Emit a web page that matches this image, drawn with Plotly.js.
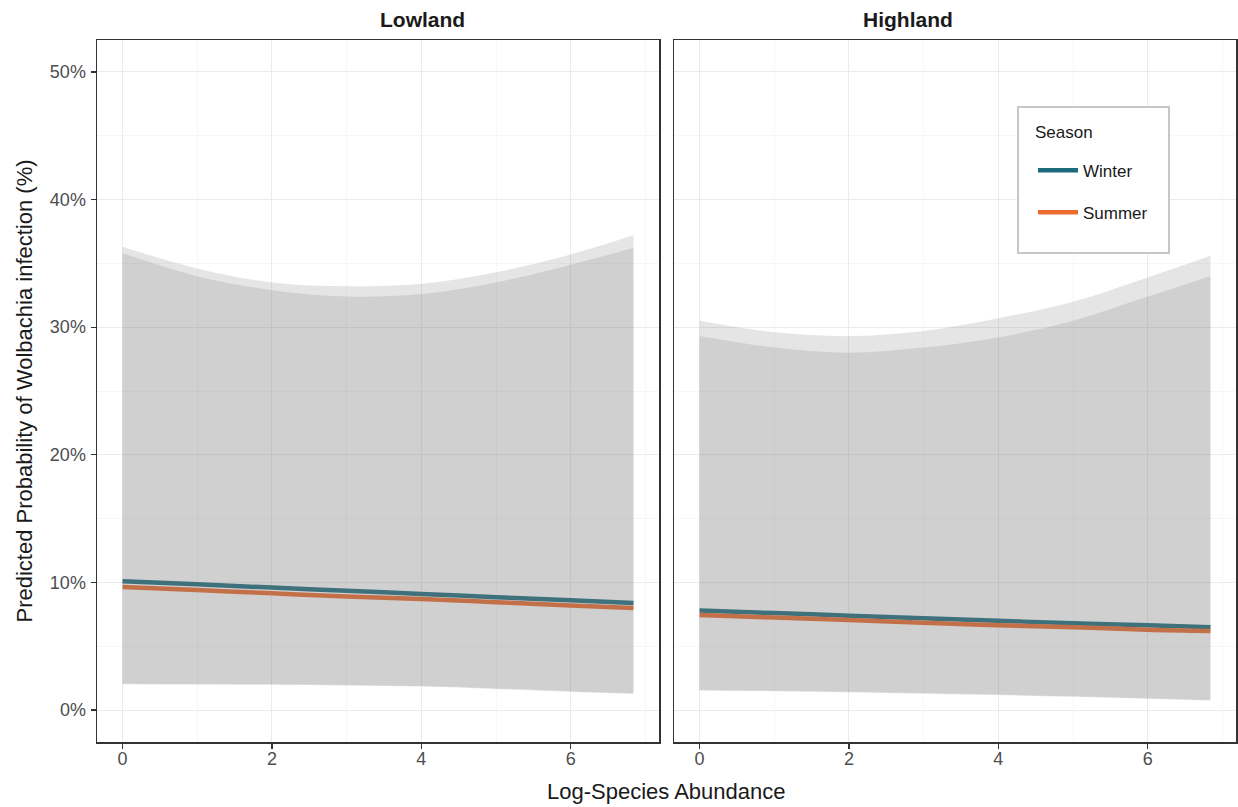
<!DOCTYPE html>
<html><head><meta charset="utf-8">
<script src="https://cdn.plot.ly/plotly-3.0.1.min.js"></script>
<style>html,body{margin:0;padding:0;background:#fff}</style>
</head><body><div id="chart" style="width:1238px;height:807px"></div>
<script>
const panels = ['Lowland', 'Highland'];
const seasons = ['Winter', 'Summer'];
const xVals = [0, 1, 2, 3, 4, 5, 6, 6.84];
const xTicks = [0, 2, 4, 6];
const yTicks = [0, 10, 20, 30, 40, 50];
const yTickLabels = ['0%', '10%', '20%', '30%', '40%', '50%'];

const lowWinterFit   = [10.1, 9.85, 9.6, 9.35, 9.1, 8.85, 8.6, 8.4];
const lowSummerFit   = [9.65, 9.4, 9.15, 8.9, 8.7, 8.45, 8.2, 8.0];
const lowWinterUpper = [36.3, 34.6, 33.5, 33.2, 33.4, 34.3, 35.7, 37.2];
const lowSummerUpper = [35.8, 34.0, 32.9, 32.4, 32.6, 33.5, 34.9, 36.2];
const lowWinterLower = [2.07, 2.05, 2.02, 1.96, 1.88, 1.70, 1.48, 1.31];
const lowSummerLower = [2.03, 2.01, 1.98, 1.92, 1.84, 1.65, 1.44, 1.27];

const highWinterFit   = [7.8, 7.6, 7.4, 7.2, 7.0, 6.8, 6.65, 6.5];
const highSummerFit   = [7.45, 7.25, 7.05, 6.85, 6.65, 6.5, 6.3, 6.2];
const highWinterUpper = [30.5, 29.6, 29.3, 29.7, 30.7, 32.0, 33.9, 35.6];
const highSummerUpper = [29.3, 28.4, 28.0, 28.4, 29.2, 30.5, 32.4, 34.0];
const highWinterLower = [1.57, 1.52, 1.44, 1.33, 1.22, 1.08, 0.92, 0.79];
const highSummerLower = [1.53, 1.48, 1.40, 1.29, 1.18, 1.04, 0.88, 0.75];

const seasonColors = {Winter: '#1c6b7c', Summer: '#ec6a2c'};
const ribbonFill = 'rgba(127,127,127,0.2)';
const FONT = 'Liberation Sans, Arial, sans-serif';

const panelData = [
  {xa: 'x',  ya: 'y',  fit: {Winter: lowWinterFit, Summer: lowSummerFit},
   upper: {Winter: lowWinterUpper, Summer: lowSummerUpper},
   lower: {Winter: lowWinterLower, Summer: lowSummerLower}},
  {xa: 'x2', ya: 'y2', fit: {Winter: highWinterFit, Summer: highSummerFit},
   upper: {Winter: highWinterUpper, Summer: highSummerUpper},
   lower: {Winter: highWinterLower, Summer: highSummerLower}}
];

const traces = [];
panelData.forEach((p, pi) => {
  seasons.forEach(s => {
    traces.push({
      type: 'scatter', mode: 'lines', x: xVals, y: p.fit[s],
      xaxis: p.xa, yaxis: p.ya, name: s, legendgroup: s,
      showlegend: pi === 1,
      line: {color: seasonColors[s], width: 4.5, shape: 'spline'},
      hoverinfo: 'skip'
    });
  });
  seasons.forEach(s => {
    traces.push({
      type: 'scatter', mode: 'lines', x: xVals, y: p.lower[s],
      xaxis: p.xa, yaxis: p.ya, showlegend: false,
      line: {width: 0, shape: 'spline'}, hoverinfo: 'skip'
    });
    traces.push({
      type: 'scatter', mode: 'lines', x: xVals, y: p.upper[s],
      xaxis: p.xa, yaxis: p.ya, showlegend: false, fill: 'tonexty',
      fillcolor: ribbonFill, line: {width: 0, shape: 'spline'}, hoverinfo: 'skip'
    });
  });
});

const tickFont = {family: FONT, size: 18, color: '#4d4d4d'};
const xCommon = {
  range: [-0.342, 7.182], tickvals: xTicks, ticks: 'outside', ticklen: 5,
  tickcolor: '#333333', tickwidth: 1.2, tickfont: tickFont, ticklabelstandoff: -5,
  showgrid: true, gridcolor: '#ebebeb', gridwidth: 1,
  minor: {dtick: 1, tick0: 1, showgrid: true, gridcolor: '#f2f2f2', gridwidth: 0.6, ticks: ''},
  showline: true, mirror: true, linecolor: '#333333', linewidth: 1.5,
  zeroline: false, fixedrange: true
};
const yCommon = {
  range: [-2.5, 52.5], tickvals: yTicks, ticktext: yTickLabels, tickmode: 'array',
  showgrid: true, gridcolor: '#ebebeb', gridwidth: 1,
  minor: {dtick: 5, tick0: 5, showgrid: true, gridcolor: '#f2f2f2', gridwidth: 0.6, ticks: ''},
  showline: true, mirror: true, linecolor: '#333333', linewidth: 1.5,
  zeroline: false, fixedrange: true
};

const layout = {
  width: 1238, height: 807,
  margin: {l: 0, r: 0, t: 40, b: 65},
  paper_bgcolor: '#ffffff', plot_bgcolor: '#ffffff',
  font: {family: FONT, color: '#1a1a1a'},
  xaxis: Object.assign({}, xCommon, {domain: [97 / 1238, 659 / 1238], anchor: 'y'}),
  xaxis2: Object.assign({}, xCommon, {domain: [674 / 1238, 1236 / 1238], anchor: 'y2'}),
  yaxis: Object.assign({}, yCommon, {
    anchor: 'x', domain: [0, 1], ticks: 'outside', ticklen: 5, tickcolor: '#333333', tickwidth: 1.2,
    tickfont: tickFont, ticklabelstandoff: 1,
    title: {text: 'Predicted Probability of Wolbachia infection (%)', standoff: 11,
            font: {family: FONT, size: 22, color: '#1a1a1a'}}
  }),
  yaxis2: Object.assign({}, yCommon, {anchor: 'x2', matches: 'y', domain: [0, 1],
    showticklabels: false, ticks: ''}),
  showlegend: true,
  legend: {
    x: 1033 / 1238, y: (742 - 124) / 702, xanchor: 'left', yanchor: 'top',
    bgcolor: 'rgba(0,0,0,0)', borderwidth: 0, tracegroupgap: 17,
    title: {text: '<span style="font-size:17px">Season</span><br> ',
            font: {family: FONT, size: 11, color: '#1a1a1a'}},
    font: {family: FONT, size: 17, color: '#1a1a1a'}, itemwidth: 40
  },
  shapes: [{
    type: 'rect', xref: 'paper', yref: 'paper', layer: 'above',
    x0: 1018 / 1238, x1: 1169 / 1238, y0: (742 - 253) / 702, y1: (742 - 107) / 702,
    line: {color: '#c6c6c6', width: 2}, fillcolor: '#ffffff'
  }],
  annotations: [
    {text: '<b>' + panels[0] + '</b>', xref: 'paper', yref: 'paper',
     x: (97 + 659) / 2 / 1238, y: 1, yanchor: 'bottom', yshift: 7, showarrow: false,
     font: {family: FONT, size: 21, color: '#1a1a1a'}},
    {text: '<b>' + panels[1] + '</b>', xref: 'paper', yref: 'paper',
     x: (674 + 1236) / 2 / 1238, y: 1, yanchor: 'bottom', yshift: 7, showarrow: false,
     font: {family: FONT, size: 21, color: '#1a1a1a'}},
    {text: 'Log-Species Abundance', xref: 'paper', yref: 'paper',
     x: (97 + 1236) / 2 / 1238, y: 0, yanchor: 'top', yshift: -35, showarrow: false,
     font: {family: FONT, size: 22, color: '#1a1a1a'}}
  ]
};

Plotly.newPlot('chart', traces, layout, {displayModeBar: false, staticPlot: true});
</script>
</body></html>
